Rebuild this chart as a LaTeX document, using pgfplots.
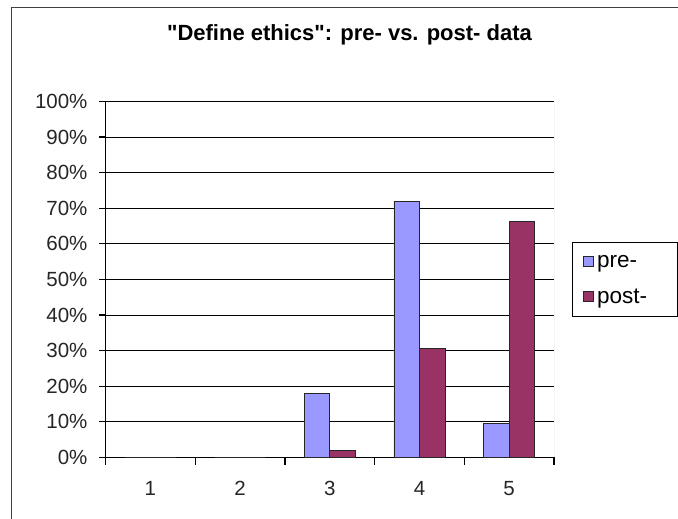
\documentclass[border=0pt]{standalone}
\usepackage{fontspec}
\setmainfont{Liberation Sans}[Ligatures=TeXOff]
\usepackage{pgfplots}
\pgfplotsset{compat=1.18}
\definecolor{preC}{HTML}{9999FF}
\definecolor{postC}{HTML}{993366}
\begin{document}
\begin{tikzpicture}
\useasboundingbox (0,0) rectangle (678bp,519bp);
\fill[white] (0,0) rectangle (678bp,519bp);
\draw[line width=1.5bp, black!75] (11.5bp,0bp) -- (11.5bp,511.5bp) -- (678bp,511.5bp);
\node[anchor=base, font=\bfseries\fontsize{22bp}{26bp}\selectfont] at (349.5bp,478bp) {"Define ethics": pre- vs. post- data};
\begin{axis}[
  at={(105.5bp,61.5bp)}, anchor=south west,
  scale only axis, width=448.5bp, height=356bp,
  ybar=0pt, bar width=25.5bp,
  xmin=0.5, xmax=5.5, ymin=0, ymax=100,
  xtick={1,2,3,4,5}, xticklabels={1,2,3,4,5},
  major x tick style={draw=none},
  minor xtick={0.5,1.5,2.5,3.5,4.5,5.5},
  ytick={0,10,20,30,40,50,60,70,80,90,100},
  yticklabels={0\%,10\%,20\%,30\%,40\%,50\%,60\%,70\%,80\%,90\%,100\%},
  tick align=outside, major tick length=6.5bp, minor tick length=7.5bp,
  axis x line*=bottom, axis y line*=left,
  ymajorgrids, grid style={black, line width=1bp},
  axis line style={black, line width=1.2bp},
  tick style={black, line width=1.2bp},
  ticklabel style={font=\fontsize{20.5bp}{24bp}\selectfont, text=black!85},
  xticklabel style={yshift=-14bp},
  yticklabel style={xshift=-8bp},
  legend style={at={(1.04,0.604)}, anchor=north west, draw=black, line width=1bp,
    font=\fontsize{22.5bp}{26bp}\selectfont, inner xsep=11bp, inner ysep=10bp, row sep=16bp},
  legend cell align=left,
  legend image code/.code={\draw[#1, line width=0.7bp] (0bp,-4.5bp) rectangle (9.5bp,5bp);},
]
\addplot[fill=preC, draw=black!85, line width=0.9bp] coordinates {(1,0) (2,0) (3,18) (4,72) (5,9.6)};
\addplot[fill=postC, draw=black!85, line width=0.9bp] coordinates {(1,0) (2,0) (3,2) (4,30.7) (5,66.4)};
\addlegendentry{\hspace*{1.5bp}pre-}
\addlegendentry{\hspace*{1.5bp}post-\hspace*{17bp}}
\draw[black!30, line width=1bp] (rel axis cs:1,0) -- (rel axis cs:1,1);
\end{axis}
\end{tikzpicture}
\end{document}
